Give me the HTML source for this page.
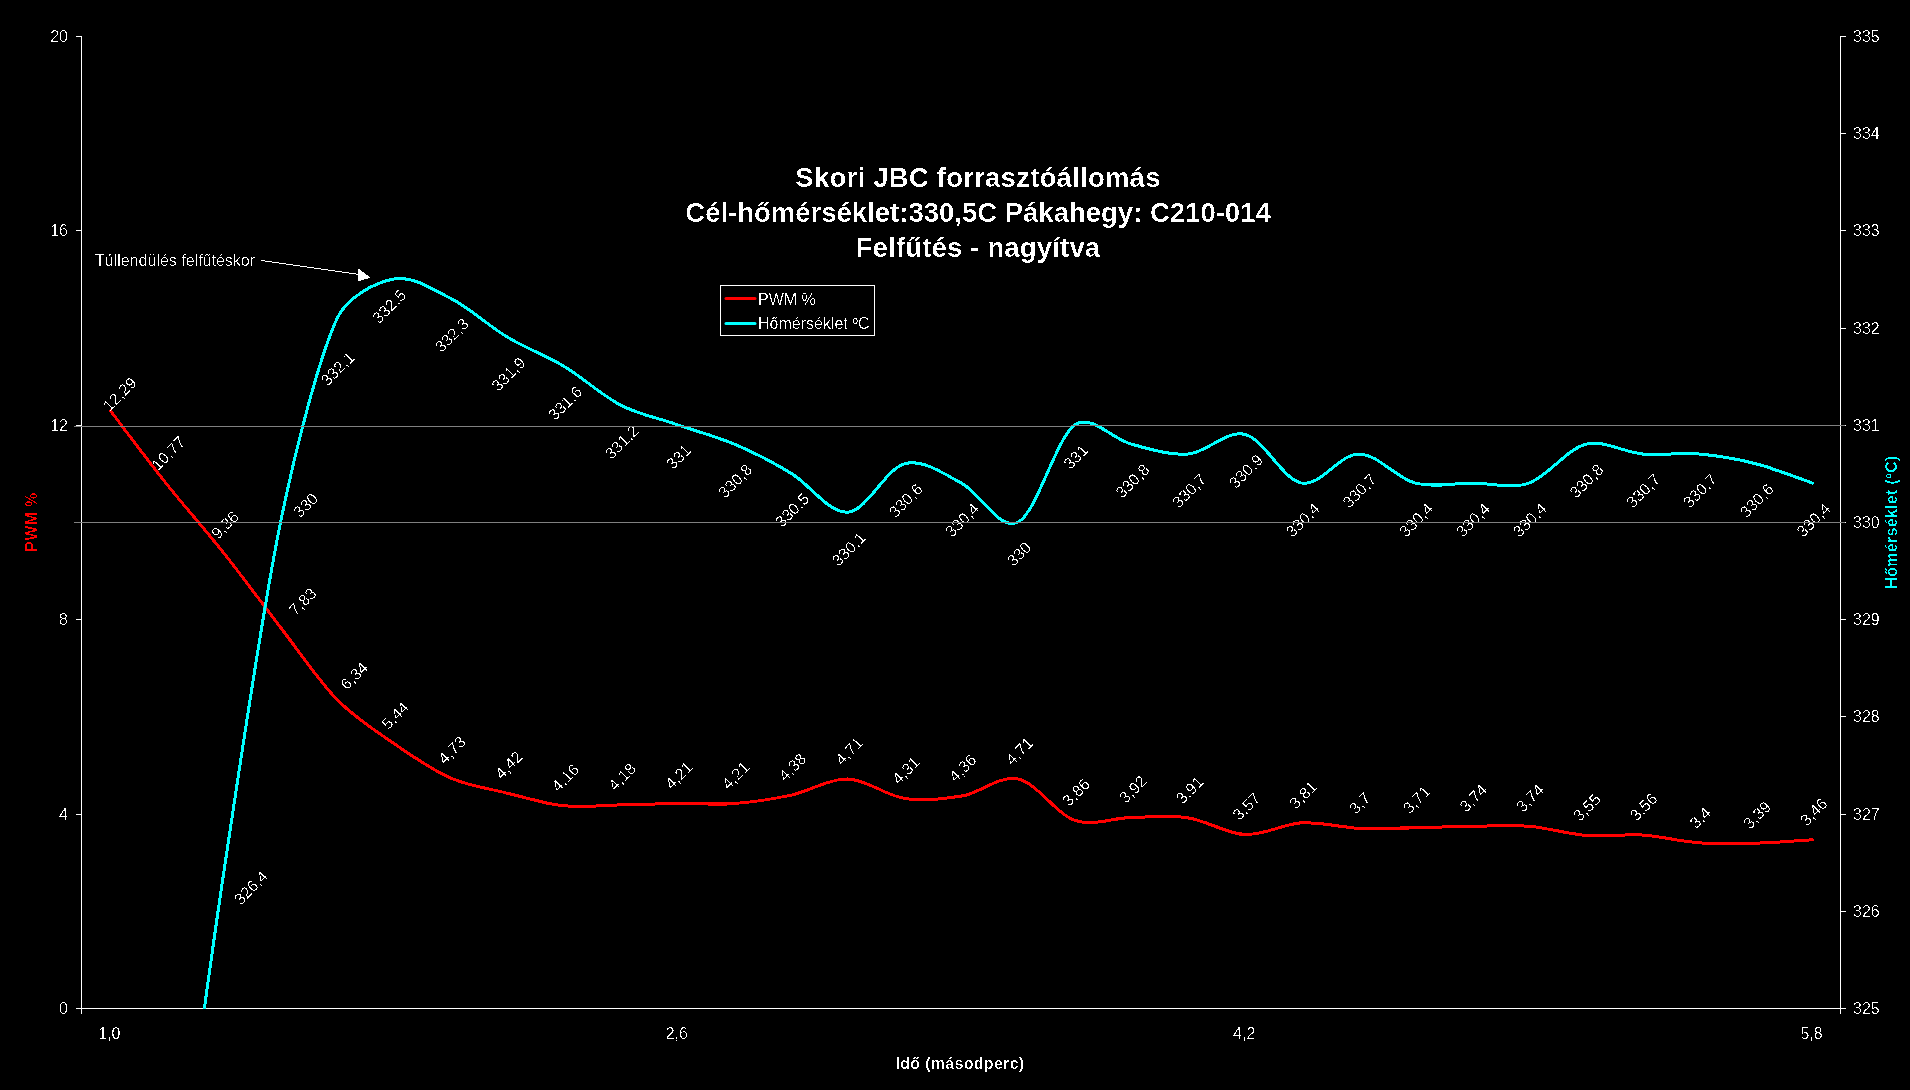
<!DOCTYPE html>
<html><head><meta charset="utf-8"><style>
html,body{margin:0;padding:0;background:#000;width:1910px;height:1090px;overflow:hidden}
svg{display:block;will-change:transform}
text{font-family:"Liberation Sans",sans-serif}
.tk{font-size:16px;fill:#fff}
.lb{font-size:16px;fill:#fff}
.ax{font-size:16px;font-weight:bold;letter-spacing:0.3px}
.ti{font-size:27.5px;font-weight:bold;fill:#fff}
</style></head><body>
<svg width="1910" height="1090" viewBox="0 0 1910 1090">
<rect x="0" y="0" width="1910" height="1090" fill="#000"/>
<line x1="81.5" y1="36" x2="81.5" y2="1014" stroke="#fff" stroke-width="1"/>
<line x1="1840.5" y1="36" x2="1840.5" y2="1014" stroke="#fff" stroke-width="1"/>
<line x1="81" y1="1008.5" x2="1841" y2="1008.5" stroke="#fff" stroke-width="1"/>
<line x1="76" y1="1008.5" x2="81" y2="1008.5" stroke="#fff" stroke-width="1"/>
<line x1="76" y1="814.5" x2="81" y2="814.5" stroke="#fff" stroke-width="1"/>
<line x1="76" y1="619.5" x2="81" y2="619.5" stroke="#fff" stroke-width="1"/>
<line x1="76" y1="425.5" x2="81" y2="425.5" stroke="#fff" stroke-width="1"/>
<line x1="76" y1="230.5" x2="81" y2="230.5" stroke="#fff" stroke-width="1"/>
<line x1="76" y1="36.5" x2="81" y2="36.5" stroke="#fff" stroke-width="1"/>
<line x1="1840" y1="1008.5" x2="1846" y2="1008.5" stroke="#fff" stroke-width="1"/>
<line x1="1840" y1="911.5" x2="1846" y2="911.5" stroke="#fff" stroke-width="1"/>
<line x1="1840" y1="814.5" x2="1846" y2="814.5" stroke="#fff" stroke-width="1"/>
<line x1="1840" y1="716.5" x2="1846" y2="716.5" stroke="#fff" stroke-width="1"/>
<line x1="1840" y1="619.5" x2="1846" y2="619.5" stroke="#fff" stroke-width="1"/>
<line x1="1840" y1="522.5" x2="1846" y2="522.5" stroke="#fff" stroke-width="1"/>
<line x1="1840" y1="425.5" x2="1846" y2="425.5" stroke="#fff" stroke-width="1"/>
<line x1="1840" y1="328.5" x2="1846" y2="328.5" stroke="#fff" stroke-width="1"/>
<line x1="1840" y1="230.5" x2="1846" y2="230.5" stroke="#fff" stroke-width="1"/>
<line x1="1840" y1="133.5" x2="1846" y2="133.5" stroke="#fff" stroke-width="1"/>
<line x1="1840" y1="36.5" x2="1846" y2="36.5" stroke="#fff" stroke-width="1"/>
<defs><clipPath id="pa"><rect x="82" y="36" width="1758" height="973"/></clipPath></defs>
<rect x="720.5" y="285.5" width="154" height="50" fill="#000" stroke="#fff" stroke-width="1"/>
<line x1="726" y1="298.5" x2="755" y2="298.5" stroke="#ff0000" stroke-width="3" stroke-linecap="round"/>
<line x1="726" y1="323.5" x2="755" y2="323.5" stroke="#00ffff" stroke-width="3" stroke-linecap="round"/>
<filter id="crisp" x="0" y="0" width="1910" height="1090" filterUnits="userSpaceOnUse"><feComponentTransfer><feFuncA type="discrete" tableValues="0 1"/></feComponentTransfer></filter>
<filter id="crisp2" x="0" y="0" width="1910" height="1090" filterUnits="userSpaceOnUse"><feComponentTransfer><feFuncA type="discrete" tableValues="0 0 1"/></feComponentTransfer></filter>
<g filter="url(#crisp)">
<path d="M110.37,410.71 C119.83,423.02 148.20,460.85 167.11,484.58 C185.41,507.54 205.59,530.11 223.85,553.10 C242.77,576.92 261.72,603.04 280.60,627.46 C299.17,651.48 318.42,680.52 337.34,699.88 C353.86,716.79 375.17,730.58 394.08,743.62 C412.12,756.06 431.91,769.86 450.82,778.12 C468.58,785.88 488.74,788.59 507.56,793.19 C526.20,797.74 545.39,803.88 564.31,805.82 C582.94,807.74 602.33,805.25 621.05,804.85 C639.78,804.45 659.06,803.63 677.79,803.39 C696.51,803.15 715.86,804.75 734.53,803.39 C753.40,802.02 772.77,799.09 791.27,795.13 C810.19,791.08 829.10,778.53 848.02,779.09 C866.93,779.66 885.84,795.70 904.76,798.53 C923.29,801.31 943.03,799.27 961.50,796.10 C980.41,792.86 999.33,775.04 1018.24,779.09 C1037.16,783.14 1056.07,814.00 1074.98,820.40 C1092.74,826.41 1112.98,817.89 1131.73,817.49 C1150.45,817.09 1169.95,815.20 1188.47,817.97 C1207.38,820.81 1226.30,833.69 1245.21,834.50 C1264.12,835.31 1283.04,823.89 1301.95,822.83 C1320.73,821.79 1339.90,827.38 1358.69,828.18 C1377.40,828.98 1396.71,828.01 1415.44,827.69 C1434.16,827.37 1453.45,826.48 1472.18,826.24 C1490.90,826.00 1510.26,824.72 1528.92,826.24 C1547.83,827.77 1566.75,834.01 1585.66,835.47 C1604.33,836.91 1623.72,833.78 1642.40,834.98 C1661.26,836.20 1680.30,841.39 1699.15,842.76 C1717.82,844.12 1737.17,843.73 1755.89,843.25 C1774.64,842.76 1803.17,840.41 1812.63,839.84" fill="none" stroke="#ff0000" stroke-width="3" stroke-linejoin="round" stroke-linecap="round" clip-path="url(#pa)"/>
<path d="M110.37,1591.20 C119.83,1537.74 150.36,1376.62 167.11,1270.44 C186.03,1150.56 204.94,996.66 223.85,871.92 C241.39,756.26 261.68,614.34 280.60,522.00 C294.63,453.51 318.42,358.38 337.34,317.88 C346.94,297.31 375.17,282.24 394.08,279.00 C412.99,275.76 433.22,289.39 450.82,298.44 C469.74,308.16 488.65,325.98 507.56,337.32 C525.62,348.15 546.25,355.65 564.31,366.48 C583.22,377.82 602.13,395.64 621.05,405.36 C638.65,414.41 659.07,418.38 677.79,424.80 C696.52,431.22 716.34,436.45 734.53,444.24 C753.45,452.34 773.22,462.57 791.27,473.40 C810.19,484.74 829.10,513.90 848.02,512.28 C866.93,510.66 885.84,468.54 904.76,463.68 C923.67,458.82 943.90,474.07 961.50,483.12 C980.41,492.84 999.33,531.72 1018.24,522.00 C1037.16,512.28 1056.07,437.76 1074.98,424.80 C1091.31,413.61 1112.81,439.38 1131.73,444.24 C1150.13,448.97 1169.55,455.58 1188.47,453.96 C1207.38,452.34 1226.30,429.66 1245.21,434.52 C1264.12,439.38 1283.04,479.88 1301.95,483.12 C1320.87,486.36 1339.78,453.96 1358.69,453.96 C1377.61,453.96 1396.52,478.26 1415.44,483.12 C1433.57,487.78 1453.45,483.12 1472.18,483.12 C1490.90,483.12 1511.21,489.19 1528.92,483.12 C1547.83,476.64 1566.75,449.10 1585.66,444.24 C1604.06,439.51 1623.49,452.34 1642.40,453.96 C1661.06,455.56 1680.49,452.36 1699.15,453.96 C1718.06,455.58 1737.49,458.95 1755.89,463.68 C1774.80,468.54 1803.17,479.88 1812.63,483.12" fill="none" stroke="#00ffff" stroke-width="3" stroke-linejoin="round" stroke-linecap="round" clip-path="url(#pa)"/>
<line x1="261" y1="260.5" x2="360" y2="274.5" stroke="#fff" stroke-width="1"/>
<polygon points="358.5,268.5 370.5,277.8 358.2,281.3" fill="#fff"/>
</g>
<g filter="url(#crisp2)">
<text x="68" y="1014" text-anchor="end" class="tk">0</text>
<text x="68" y="820" text-anchor="end" class="tk">4</text>
<text x="68" y="625" text-anchor="end" class="tk">8</text>
<text x="68" y="431" text-anchor="end" class="tk">12</text>
<text x="68" y="236" text-anchor="end" class="tk">16</text>
<text x="68" y="42" text-anchor="end" class="tk">20</text>
<text x="1853" y="1014" class="tk">325</text>
<text x="1853" y="917" class="tk">326</text>
<text x="1853" y="820" class="tk">327</text>
<text x="1853" y="722" class="tk">328</text>
<text x="1853" y="625" class="tk">329</text>
<text x="1853" y="528" class="tk">330</text>
<text x="1853" y="431" class="tk">331</text>
<text x="1853" y="334" class="tk">332</text>
<text x="1853" y="236" class="tk">333</text>
<text x="1853" y="139" class="tk">334</text>
<text x="1853" y="42" class="tk">335</text>
<text x="109.4" y="1039" text-anchor="middle" class="tk">1,0</text>
<text x="676.8" y="1039" text-anchor="middle" class="tk">2,6</text>
<text x="1244.2" y="1039" text-anchor="middle" class="tk">4,2</text>
<text x="1811.6" y="1039" text-anchor="middle" class="tk">5,8</text>
<text x="960" y="1069" text-anchor="middle" class="ax" fill="#fff">Idő (másodperc)</text>
<text transform="translate(37,522) rotate(-90)" x="0" y="0" text-anchor="middle" class="ax" fill="#ff0000">PWM %</text>
<text transform="translate(1897,522) rotate(-90)" x="0" y="0" text-anchor="middle" class="ax" fill="#00ffff">Hőmérséklet (ºC)</text>
<text x="978" y="187" text-anchor="middle" class="ti" letter-spacing="0.24">Skori JBC forrasztóállomás</text>
<text x="978" y="222" text-anchor="middle" class="ti">Cél-hőmérséklet:330,5C Pákahegy: C210-014</text>
<text x="978" y="257" text-anchor="middle" class="ti" letter-spacing="0.17">Felfűtés - nagyítva</text>
<text transform="translate(119.5,394.0) rotate(-45)" x="0" y="5.7" text-anchor="middle" class="lb">12,29</text>
<text transform="translate(168.1,453.2) rotate(-45)" x="0" y="5.7" text-anchor="middle" class="lb">10,77</text>
<text transform="translate(224.9,524.9) rotate(-45)" x="0" y="5.7" text-anchor="middle" class="lb">9,36</text>
<text transform="translate(302.5,601.4) rotate(-45)" x="0" y="5.7" text-anchor="middle" class="lb">7,83</text>
<text transform="translate(354.0,675.6) rotate(-45)" x="0" y="5.7" text-anchor="middle" class="lb">6,34</text>
<text transform="translate(395.1,715.4) rotate(-45)" x="0" y="5.7" text-anchor="middle" class="lb">5,44</text>
<text transform="translate(451.8,749.9) rotate(-45)" x="0" y="5.7" text-anchor="middle" class="lb">4,73</text>
<text transform="translate(508.6,765.0) rotate(-45)" x="0" y="5.7" text-anchor="middle" class="lb">4,42</text>
<text transform="translate(565.3,777.6) rotate(-45)" x="0" y="5.7" text-anchor="middle" class="lb">4,16</text>
<text transform="translate(622.0,776.6) rotate(-45)" x="0" y="5.7" text-anchor="middle" class="lb">4,18</text>
<text transform="translate(678.8,775.2) rotate(-45)" x="0" y="5.7" text-anchor="middle" class="lb">4,21</text>
<text transform="translate(735.5,775.2) rotate(-45)" x="0" y="5.7" text-anchor="middle" class="lb">4,21</text>
<text transform="translate(792.3,766.9) rotate(-45)" x="0" y="5.7" text-anchor="middle" class="lb">4,38</text>
<text transform="translate(849.0,750.9) rotate(-45)" x="0" y="5.7" text-anchor="middle" class="lb">4,71</text>
<text transform="translate(905.8,770.3) rotate(-45)" x="0" y="5.7" text-anchor="middle" class="lb">4,31</text>
<text transform="translate(962.5,767.9) rotate(-45)" x="0" y="5.7" text-anchor="middle" class="lb">4,36</text>
<text transform="translate(1019.2,750.9) rotate(-45)" x="0" y="5.7" text-anchor="middle" class="lb">4,71</text>
<text transform="translate(1076.0,792.2) rotate(-45)" x="0" y="5.7" text-anchor="middle" class="lb">3,86</text>
<text transform="translate(1132.7,789.3) rotate(-45)" x="0" y="5.7" text-anchor="middle" class="lb">3,92</text>
<text transform="translate(1189.5,789.8) rotate(-45)" x="0" y="5.7" text-anchor="middle" class="lb">3,91</text>
<text transform="translate(1246.2,806.3) rotate(-45)" x="0" y="5.7" text-anchor="middle" class="lb">3,57</text>
<text transform="translate(1303.0,794.6) rotate(-45)" x="0" y="5.7" text-anchor="middle" class="lb">3,81</text>
<text transform="translate(1359.7,803.1) rotate(-45)" x="0" y="5.7" text-anchor="middle" class="lb">3,7</text>
<text transform="translate(1416.4,799.5) rotate(-45)" x="0" y="5.7" text-anchor="middle" class="lb">3,71</text>
<text transform="translate(1473.2,798.0) rotate(-45)" x="0" y="5.7" text-anchor="middle" class="lb">3,74</text>
<text transform="translate(1529.9,798.0) rotate(-45)" x="0" y="5.7" text-anchor="middle" class="lb">3,74</text>
<text transform="translate(1586.7,807.3) rotate(-45)" x="0" y="5.7" text-anchor="middle" class="lb">3,55</text>
<text transform="translate(1643.4,806.8) rotate(-45)" x="0" y="5.7" text-anchor="middle" class="lb">3,56</text>
<text transform="translate(1700.1,817.7) rotate(-45)" x="0" y="5.7" text-anchor="middle" class="lb">3,4</text>
<text transform="translate(1756.9,815.0) rotate(-45)" x="0" y="5.7" text-anchor="middle" class="lb">3,39</text>
<text transform="translate(1813.6,811.6) rotate(-45)" x="0" y="5.7" text-anchor="middle" class="lb">3,46</text>
<text transform="translate(250.8,887.5) rotate(-45)" x="0" y="5.7" text-anchor="middle" class="lb">326,4</text>
<text transform="translate(305.5,505.0) rotate(-45)" x="0" y="5.7" text-anchor="middle" class="lb">330</text>
<text transform="translate(337.6,368.5) rotate(-45)" x="0" y="5.7" text-anchor="middle" class="lb">332,1</text>
<text transform="translate(389.0,306.3) rotate(-45)" x="0" y="5.7" text-anchor="middle" class="lb">332,5</text>
<text transform="translate(451.5,335.1) rotate(-45)" x="0" y="5.7" text-anchor="middle" class="lb">332,3</text>
<text transform="translate(508.3,374.0) rotate(-45)" x="0" y="5.7" text-anchor="middle" class="lb">331,9</text>
<text transform="translate(565.0,403.1) rotate(-45)" x="0" y="5.7" text-anchor="middle" class="lb">331,6</text>
<text transform="translate(621.7,442.0) rotate(-45)" x="0" y="5.7" text-anchor="middle" class="lb">331,2</text>
<text transform="translate(678.5,456.7) rotate(-45)" x="0" y="5.7" text-anchor="middle" class="lb">331</text>
<text transform="translate(735.2,480.9) rotate(-45)" x="0" y="5.7" text-anchor="middle" class="lb">330,8</text>
<text transform="translate(792.0,510.1) rotate(-45)" x="0" y="5.7" text-anchor="middle" class="lb">330,5</text>
<text transform="translate(848.7,548.9) rotate(-45)" x="0" y="5.7" text-anchor="middle" class="lb">330,1</text>
<text transform="translate(905.5,500.3) rotate(-45)" x="0" y="5.7" text-anchor="middle" class="lb">330,6</text>
<text transform="translate(962.2,519.8) rotate(-45)" x="0" y="5.7" text-anchor="middle" class="lb">330,4</text>
<text transform="translate(1018.9,553.9) rotate(-45)" x="0" y="5.7" text-anchor="middle" class="lb">330</text>
<text transform="translate(1075.7,456.7) rotate(-45)" x="0" y="5.7" text-anchor="middle" class="lb">331</text>
<text transform="translate(1132.4,480.9) rotate(-45)" x="0" y="5.7" text-anchor="middle" class="lb">330,8</text>
<text transform="translate(1189.2,490.6) rotate(-45)" x="0" y="5.7" text-anchor="middle" class="lb">330,7</text>
<text transform="translate(1245.9,471.2) rotate(-45)" x="0" y="5.7" text-anchor="middle" class="lb">330,9</text>
<text transform="translate(1302.7,519.8) rotate(-45)" x="0" y="5.7" text-anchor="middle" class="lb">330,4</text>
<text transform="translate(1359.4,490.6) rotate(-45)" x="0" y="5.7" text-anchor="middle" class="lb">330,7</text>
<text transform="translate(1416.1,519.8) rotate(-45)" x="0" y="5.7" text-anchor="middle" class="lb">330,4</text>
<text transform="translate(1472.9,519.8) rotate(-45)" x="0" y="5.7" text-anchor="middle" class="lb">330,4</text>
<text transform="translate(1529.6,519.8) rotate(-45)" x="0" y="5.7" text-anchor="middle" class="lb">330,4</text>
<text transform="translate(1586.4,480.9) rotate(-45)" x="0" y="5.7" text-anchor="middle" class="lb">330,8</text>
<text transform="translate(1643.1,490.6) rotate(-45)" x="0" y="5.7" text-anchor="middle" class="lb">330,7</text>
<text transform="translate(1699.8,490.6) rotate(-45)" x="0" y="5.7" text-anchor="middle" class="lb">330,7</text>
<text transform="translate(1756.6,500.3) rotate(-45)" x="0" y="5.7" text-anchor="middle" class="lb">330,6</text>
<text transform="translate(1813.3,519.8) rotate(-45)" x="0" y="5.7" text-anchor="middle" class="lb">330,4</text>
<text x="758" y="305" class="tk">PWM %</text>
<text x="758" y="329" class="tk">Hőmérséklet ºC</text>
<text x="95" y="266" class="tk">Túllendülés felfűtéskor</text>
</g>
<line x1="74" y1="522.5" x2="1845" y2="522.5" stroke="#808080" stroke-width="1"/>
<line x1="74" y1="426.5" x2="1071" y2="426.5" stroke="#808080" stroke-width="1"/>
<line x1="1071" y1="425.5" x2="1845" y2="425.5" stroke="#808080" stroke-width="1"/>
</svg></body></html>
